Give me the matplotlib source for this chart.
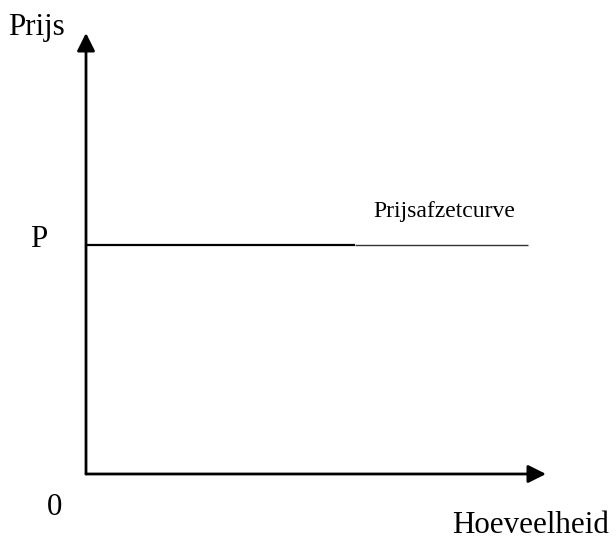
import matplotlib
matplotlib.use("Agg")
import matplotlib.pyplot as plt

# Prijsafzetcurve bij volkomen concurrentie: horizontale lijn op prijs P
hoeveelheid_max = 10.0      # einde x-as (pijlpunt)
prijs_max = 10.0            # einde y-as (pijlpunt)
prijs_P = 5.2               # niveau van de prijs
curve_x = [0.0, 5.85, 9.6]  # begin, einde dikke deel, einde curve
curve_y = [prijs_P, prijs_P, prijs_P]

label_y_as = "Prijs"
label_x_as = "Hoeveelheid"
label_P = "P"
label_0 = "0"
label_curve = "Prijsafzetcurve"

fig = plt.figure(figsize=(6.16, 5.4), dpi=100)
ax = fig.add_axes([0, 0, 1, 1])
ax.set_xlim(-86 / 46, (616 - 86) / 46)
ax.set_ylim(-(540 - 474) / 44.1, 474 / 44.1)
ax.axis("off")

serif = ["Liberation Serif", "DejaVu Serif"]

# assen met pijlen
pijl = dict(arrowstyle="-|>,head_length=0.4,head_width=0.2", mutation_scale=27,
            lw=2, color="black", shrinkA=0, shrinkB=0)
ax.annotate("", xy=(hoeveelheid_max, 0), xytext=(0, 0), arrowprops=pijl)
ax.annotate("", xy=(0, prijs_max), xytext=(0, 0), arrowprops=pijl)

# prijsafzetcurve: eerst dik, daarna dun
ax.plot(curve_x[:2], curve_y[:2], color="black", lw=1.6, solid_capstyle="butt")
ax.plot(curve_x[1:], curve_y[1:], color="#333333", lw=1.0, solid_capstyle="butt")

ax.text(-1.70, 9.95, label_y_as, fontsize=22.3, family=serif, va="baseline", ha="left")
ax.text(-1.22, 5.15, label_P, fontsize=22.3, family=serif, va="baseline", ha="left")
ax.text(-0.85, -0.93, label_0, fontsize=22.3, family=serif, va="baseline", ha="left")
ax.text(7.96, -1.34, label_x_as, fontsize=22.3, family=serif, va="baseline", ha="left")
ax.text(6.24, 5.83, label_curve, fontsize=17, family=serif, va="baseline", ha="left")

fig.savefig("out.png", dpi=100)
